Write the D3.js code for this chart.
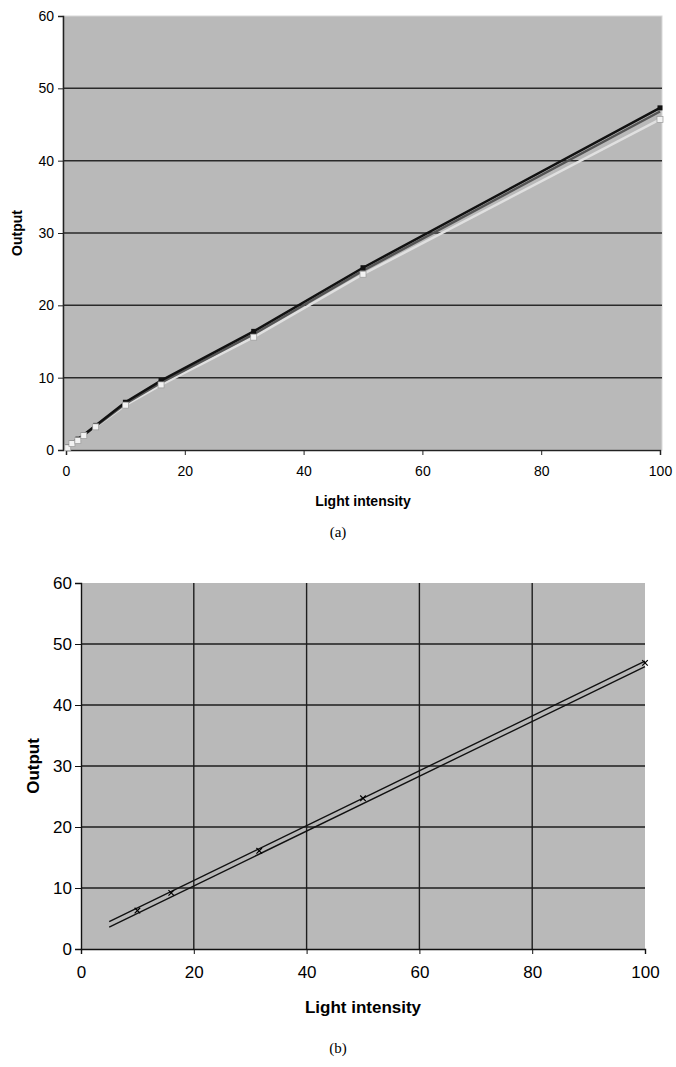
<!DOCTYPE html>
<html>
<head>
	<meta charset="utf-8">
	<title>Output vs light intensity</title>
	<script type="text/javascript" src="https://d3js.org/d3.v7.min.js"></script>
	<style>
		body { margin: 0; background: #fff; }
		text { font-family: "Liberation Sans", Arial, sans-serif; fill: #000; }
		.cap { font-family: "Liberation Serif", "Times New Roman", serif; font-size: 15px; }
	</style>
</head>
<body>
	<div id="chart"></div>
	<script>
	// light intensities where the outputs were measured
	var intensity = [0.3, 1, 2, 3, 5, 10, 16, 31.6, 50, 100];

	// (a) three nearly identical runs
	var runBlack = [0.4, 1.0, 1.5, 2.1, 3.4, 6.6, 9.6, 16.4, 25.2, 47.3];
	var runDark  = [0.4, 0.9, 1.4, 2.0, 3.3, 6.4, 9.3, 16.0, 24.8, 46.8];
	var runLight = [0.3, 0.9, 1.3, 2.0, 3.2, 6.2, 9.0, 15.6, 24.3, 45.7];

	// (b) measured points and the two bounding lines
	var pointX = [10, 16, 31.6, 50, 100];
	var pointY = [6.3, 9.2, 16.1, 24.7, 46.9];
	var boundX = [5, 100];
	var upperY = [4.5, 47.2];
	var lowerY = [3.6, 46.3];

	var xTicks = [0, 20, 40, 60, 80, 100];
	var yTicks = [0, 10, 20, 30, 40, 50, 60];

	var width = 676, height = 1067;

	var svg = d3.select("#chart")
		.append("svg")
			.attr("width", width)
			.attr("height", height);

	function zip(xs, ys) {
		return xs.map(function(x, i) { return [x, ys[i]]; });
	}

	// ---------- chart (a) ----------
	var xa = d3.scaleLinear().domain([0, 100]).range([66, 660]);
	var ya = d3.scaleLinear().domain([0, 60]).range([450, 16]);

	var ga = svg.append("g");

	ga.append("rect")
		.attr("x", xa(0) - 3).attr("y", ya(60))
		.attr("width", xa(100) - xa(0) + 5).attr("height", ya(0) - ya(60))
		.attr("fill", "#b9b9b9")
		.attr("stroke", "#d8d8d8");

	ga.append("g")
		.selectAll("line")
		.data(yTicks.filter(function(d) { return d > 0 && d < 60; }))
		.enter()
		.append("line")
			.attr("x1", xa(0) - 3).attr("x2", xa(100) + 2)
			.attr("y1", ya).attr("y2", ya)
			.attr("stroke", "#2a2a2a")
			.attr("stroke-width", 1.5);

	var axLeftA = ga.append("g")
		.attr("transform", "translate(" + (xa(0) - 3) + ",0)")
		.call(d3.axisLeft(ya).tickValues(yTicks).tickSize(5).tickPadding(4));
	axLeftA.selectAll("text").style("font-size", "14px");

	var axBottomA = ga.append("g")
		.attr("transform", "translate(0," + ya(0) + ")")
		.call(d3.axisBottom(xa).tickValues(xTicks).tickSize(5).tickPadding(11));
	axBottomA.selectAll("text").style("font-size", "14px");

	ga.selectAll(".domain").attr("stroke", "#222").attr("stroke-width", 1.5);
	ga.selectAll(".tick line").attr("stroke", "#222");

	var lineA = d3.line()
		.x(function(d) { return xa(d[0]); })
		.y(function(d) { return ya(d[1]); });

	var seriesA = [
		{ values: runLight, color: "#e0e0e0", width: 2.5 },
		{ values: runDark,  color: "#555555", width: 2.5 },
		{ values: runBlack, color: "#111111", width: 2.5 }
	];

	ga.selectAll(".run")
		.data(seriesA)
		.enter()
		.append("path")
			.attr("class", "run")
			.attr("d", function(d) { return lineA(zip(intensity, d.values)); })
			.attr("fill", "none")
			.attr("stroke", function(d) { return d.color; })
			.attr("stroke-width", function(d) { return d.width; });

	// markers
	ga.selectAll(".mk-black")
		.data(zip(intensity, runBlack))
		.enter()
		.append("rect")
			.attr("x", function(d) { return xa(d[0]) - 2.5; })
			.attr("y", function(d) { return ya(d[1]) - 2.5; })
			.attr("width", 5).attr("height", 5)
			.attr("fill", "#111");

	ga.selectAll(".mk-light")
		.data(zip(intensity, runLight))
		.enter()
		.append("rect")
			.attr("x", function(d) { return xa(d[0]) - 3; })
			.attr("y", function(d) { return ya(d[1]) - 3; })
			.attr("width", 6).attr("height", 6)
			.attr("fill", "#f2f2f2")
			.attr("stroke", "#999")
			.attr("stroke-width", 0.7);

	ga.append("text")
		.attr("transform", "translate(22," + ya(30) + ") rotate(-90)")
		.attr("text-anchor", "middle")
		.style("font-size", "14px")
		.style("font-weight", "bold")
		.text("Output");

	ga.append("text")
		.attr("x", 363).attr("y", 506)
		.attr("text-anchor", "middle")
		.style("font-size", "14px")
		.style("font-weight", "bold")
		.text("Light intensity");

	ga.append("text")
		.attr("class", "cap")
		.attr("x", 338).attr("y", 537)
		.attr("text-anchor", "middle")
		.text("(a)");

	// ---------- chart (b) ----------
	var xb = d3.scaleLinear().domain([0, 100]).range([81, 645]);
	var yb = d3.scaleLinear().domain([0, 60]).range([949, 583]);

	var gb = svg.append("g");

	gb.append("rect")
		.attr("x", xb(0)).attr("y", yb(60))
		.attr("width", xb(100) - xb(0)).attr("height", yb(0) - yb(60))
		.attr("fill", "#b9b9b9");

	gb.append("g")
		.selectAll("line")
		.data(yTicks.filter(function(d) { return d > 0 && d < 60; }))
		.enter()
		.append("line")
			.attr("x1", xb(0)).attr("x2", xb(100))
			.attr("y1", yb).attr("y2", yb)
			.attr("stroke", "#1e1e1e")
			.attr("stroke-width", 1.4);

	gb.append("g")
		.selectAll("line")
		.data(xTicks.filter(function(d) { return d > 0 && d < 100; }))
		.enter()
		.append("line")
			.attr("x1", xb).attr("x2", xb)
			.attr("y1", yb(60)).attr("y2", yb(0))
			.attr("stroke", "#1e1e1e")
			.attr("stroke-width", 1.4);

	var axLeftB = gb.append("g")
		.attr("transform", "translate(" + xb(0) + ",0)")
		.call(d3.axisLeft(yb).tickValues(yTicks).tickSize(6).tickPadding(3));
	axLeftB.selectAll("text").style("font-size", "17px");

	var axBottomB = gb.append("g")
		.attr("transform", "translate(0," + yb(0) + ")")
		.call(d3.axisBottom(xb).tickValues(xTicks).tickSize(5).tickPadding(12));
	axBottomB.selectAll("text").style("font-size", "17px");

	gb.selectAll(".domain").attr("stroke", "#111").attr("stroke-width", 1.4);
	gb.selectAll(".tick line").attr("stroke", "#111");

	var lineB = d3.line()
		.x(function(d) { return xb(d[0]); })
		.y(function(d) { return yb(d[1]); });

	gb.selectAll(".bound")
		.data([upperY, lowerY])
		.enter()
		.append("path")
			.attr("class", "bound")
			.attr("d", function(d) { return lineB(zip(boundX, d)); })
			.attr("fill", "none")
			.attr("stroke", "#111")
			.attr("stroke-width", 1.4);

	var cross = d3.symbol().type(d3.symbolX).size(22);
	gb.selectAll(".pt")
		.data(zip(pointX, pointY))
		.enter()
		.append("path")
			.attr("class", "pt")
			.attr("transform", function(d) { return "translate(" + xb(d[0]) + "," + yb(d[1]) + ")"; })
			.attr("d", cross)
			.attr("fill", "none")
			.attr("stroke", "#000")
			.attr("stroke-width", 1.2);

	gb.append("text")
		.attr("transform", "translate(39," + yb(30) + ") rotate(-90)")
		.attr("text-anchor", "middle")
		.style("font-size", "17px")
		.style("font-weight", "bold")
		.text("Output");

	gb.append("text")
		.attr("x", 363).attr("y", 1013)
		.attr("text-anchor", "middle")
		.style("font-size", "17px")
		.style("font-weight", "bold")
		.text("Light intensity");

	gb.append("text")
		.attr("class", "cap")
		.attr("x", 338).attr("y", 1053)
		.attr("text-anchor", "middle")
		.text("(b)");
	</script>
</body>
</html>
